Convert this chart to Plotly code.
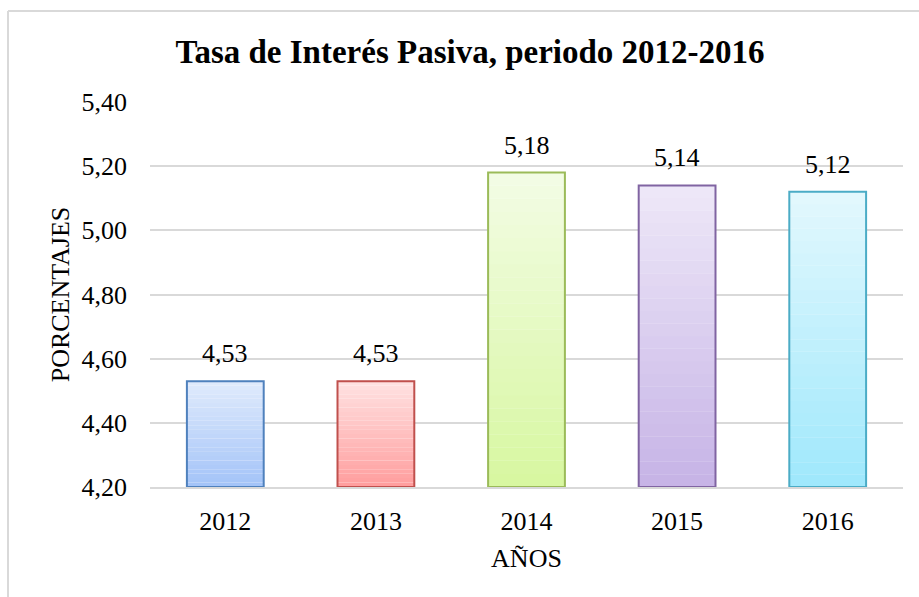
import plotly.graph_objects as go

years = ["2012", "2013", "2014", "2015", "2016"]
values = [4.53, 4.53, 5.18, 5.14, 5.12]
labels = ["4,53", "4,53", "5,18", "5,14", "5,12"]
tick_vals = [4.2, 4.4, 4.6, 4.8, 5.0, 5.2, 5.4]
tick_text = ["4,20", "4,40", "4,60", "4,80", "5,00", "5,20", "5,40"]

top_colors = [(224, 235, 252), (255, 226, 226), (243, 252, 229), (238, 232, 248), (227, 248, 253)]
bottom_colors = [(163, 195, 248), (255, 157, 157), (215, 247, 160), (198, 179, 230), (159, 232, 252)]
border_colors = ["#4f81bd", "#c0504d", "#9bbb59", "#8064a2", "#4bacc6"]

YMIN, YMAX = 4.2, 5.4
N = 24
BARW = 0.51
SERIF = "Liberation Serif, Times New Roman, serif"

fig = go.Figure()

# gradient fill built from slices of each bar
for k in range(N):
    t = (k + 0.5) / N
    cols = []
    bases = []
    heights = []
    for i, v in enumerate(values):
        b = bottom_colors[i]
        tp = top_colors[i]
        c = tuple(round(b[j] + (tp[j] - b[j]) * t) for j in range(3))
        cols.append("rgb(%d,%d,%d)" % c)
        h = (v - YMIN) / N
        bases.append(YMIN + h * k)
        heights.append(h * 1.02)
    fig.add_trace(go.Bar(x=years, y=heights, base=bases, width=BARW,
                         marker=dict(color=cols, line=dict(width=0)),
                         hoverinfo="skip", showlegend=False))

# outline
fig.add_trace(go.Bar(
    x=years, y=[v - YMIN for v in values], base=[YMIN] * len(values), width=BARW,
    marker=dict(color="rgba(0,0,0,0)", line=dict(color=border_colors, width=2)),
    showlegend=False))

# value labels (category index positions)
for i, (v, lab) in enumerate(zip(values, labels)):
    fig.add_annotation(x=i, y=v, xref="x", yref="y", text=lab, showarrow=False,
                       yanchor="bottom", yshift=11,
                       font=dict(family=SERIF, size=26, color="#000000"))

px_left, px_right, px_top, px_bottom = 150, 903, 102, 487
W, H = 919, 597
pw = px_right - px_left
ph = px_bottom - px_top

fig.update_layout(
    width=W, height=H,
    margin=dict(l=px_left, r=W - px_right, t=px_top, b=H - px_bottom, autoexpand=False),
    barmode="overlay",
    plot_bgcolor="white", paper_bgcolor="white",
    font=dict(family=SERIF, size=26, color="#000000"),
    title=dict(text="<b>Tasa de Interés Pasiva, periodo 2012-2016</b>",
               x=470 / W, xanchor="center", y=1 - 51 / H, yanchor="middle",
               font=dict(family=SERIF, size=33, color="#000000")),
    xaxis=dict(type="category", range=[-0.5, len(years) - 0.5], autorange=False,
               showgrid=False, showline=True, linecolor="#d9d9d9", linewidth=1.5,
               ticks="", ticklabelstandoff=10, tickfont=dict(size=26),
               title=dict(text="AÑOS", font=dict(size=26), standoff=14)),
    yaxis=dict(range=[YMIN, YMAX], autorange=False, tickvals=tick_vals, ticktext=tick_text,
               showgrid=True, gridcolor="#d9d9d9", gridwidth=1.5, zeroline=False,
               showline=False, ticks="", ticklabelstandoff=22, tickfont=dict(size=26),
               title=dict(text="PORCENTAJES", font=dict(size=26), standoff=4)),
    bargap=0.49,
)

# outer chart border (left and top visible)
xl = (8 - px_left) / pw
yt = (px_bottom - 11) / ph
fig.add_shape(type="line", xref="paper", yref="paper", x0=xl, x1=xl, y0=-1, y1=yt,
              line=dict(color="#d9d9d9", width=2))
fig.add_shape(type="line", xref="paper", yref="paper", x0=xl, x1=2, y0=yt, y1=yt,
              line=dict(color="#d9d9d9", width=2))

fig.write_html("out.html", config={"displayModeBar": False},
               post_script="document.body.style.margin='0';document.body.style.overflow='hidden';")
